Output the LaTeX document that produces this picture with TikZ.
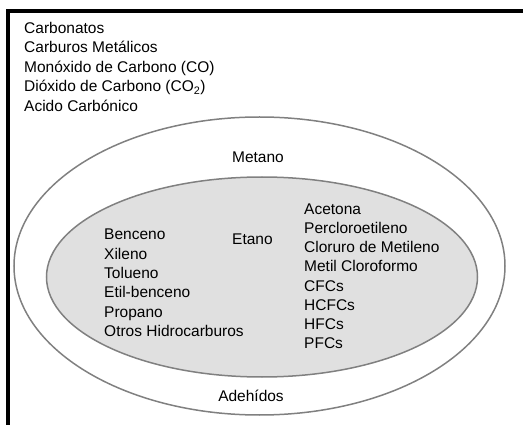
\documentclass[tikz,border=0pt]{standalone}
\usepackage{fontspec}
\setmainfont{Liberation Sans}

\begin{document}
\begin{tikzpicture}[x=1pt,y=-1pt,
    item/.style={anchor=base west,inner sep=0pt,font=\fontsize{15.5}{18}\selectfont},
    mid/.style={anchor=base,inner sep=0pt,font=\fontsize{15.5}{18}\selectfont},
    ring/.style={draw=black!50,line width=1.5pt}]
    \useasboundingbox (0,0) rectangle (523,425);
    \draw[line width=4pt] (8,425) -- (8,11.5) -- (523,11.5);
    \draw[ring] (259.5,266) ellipse [x radius=245.5pt, y radius=149pt];
    \draw[ring,fill=black!12] (262,277) ellipse [x radius=215.5pt, y radius=100pt];
    \node[item] (carbonatos) at (24,33.5) {Carbonatos};
    \node[item] (carburos) at (24,53) {Carburos Metálicos};
    \node[item] (monoxido) at (24,72.5) {Monóxido de Carbono (CO)};
    \node[item] (dioxido) at (24,92) {Dióxido de Carbono (CO\textsubscript{2})};
    \node[item] (acido) at (24,111.5) {Acido Carbónico};
    \node[mid] (metano) at (258,163) {Metano};
    \node[item] (benceno) at (104,240) {Benceno};
    \node[item] (xileno) at (104,259.3) {Xileno};
    \node[item] (tolueno) at (104,278.6) {Tolueno};
    \node[item] (etilbenceno) at (104,297.9) {Etil-benceno};
    \node[item] (propano) at (104,317.2) {Propano};
    \node[item] (otros) at (104,336.5) {Otros Hidrocarburos};
    \node[item] (etano) at (232,244.5) {Etano};
    \node[item] (acetona) at (304,214.5) {Acetona};
    \node[item] (percloro) at (304,233.6) {Percloroetileno};
    \node[item] (cloruro) at (304,252.8) {Cloruro de Metileno};
    \node[item] (metil) at (304,271.9) {Metil Cloroformo};
    \node[item] (cfcs) at (304,291.1) {CFCs};
    \node[item] (hcfcs) at (304,310.2) {HCFCs};
    \node[item] (hfcs) at (304,329.3) {HFCs};
    \node[item] (pfcs) at (304,348.5) {PFCs};
    \node[mid] (adehidos) at (251,402) {Adehídos};
\end{tikzpicture}
\end{document}
